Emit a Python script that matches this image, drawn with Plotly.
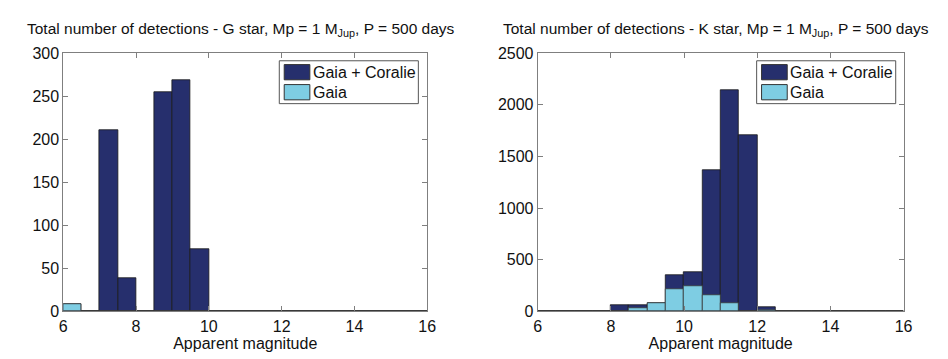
import plotly.graph_objects as go

bin_centers = [6.25, 6.75, 7.25, 7.75, 8.25, 8.75, 9.25, 9.75, 10.25, 10.75,
               11.25, 11.75, 12.25, 12.75, 13.25, 13.75, 14.25, 14.75, 15.25, 15.75]

g_gaia_coralie = [8, 0, 210, 38, 0, 255, 269, 72, 0, 0, 0, 0, 0, 0, 0, 0, 0, 0, 0, 0]
g_gaia = [8, 0, 0, 0, 0, 0, 0, 0, 0, 0, 0, 0, 0, 0, 0, 0, 0, 0, 0, 0]

k_gaia_coralie = [0, 0, 0, 6, 61, 60, 80, 353, 383, 1365, 2141, 1706, 37, 0, 0, 0, 0, 0, 0, 0]
k_gaia = [0, 0, 0, 0, 0, 28, 80, 212, 242, 156, 77, 6, 15, 0, 0, 0, 0, 0, 0, 0]

series_names = ["Gaia + Coralie", "Gaia"]
x_ticks = [6, 8, 10, 12, 14, 16]
g_yticks = [0, 50, 100, 150, 200, 250, 300]
k_yticks = [0, 500, 1000, 1500, 2000, 2500]

titles = ["Total number of detections - G star, Mp = 1 M<sub>Jup</sub>, P = 500 days",
          "Total number of detections - K star, Mp = 1 M<sub>Jup</sub>, P = 500 days"]

DARK = "#262f6d"
LIGHT = "#7ecde3"
EDGE = "#1a1a1a"
FONT = "Liberation Sans, Arial, sans-serif"
W, H = 948, 359

fig = go.Figure()
panels = [(g_gaia_coralie, g_gaia, "x", "y"),
          (k_gaia_coralie, k_gaia, "x2", "y2")]
for dark, light, xa, ya in panels:
    fig.add_trace(go.Bar(x=bin_centers, y=dark, width=0.5, name=series_names[0],
                         marker=dict(color=DARK, line=dict(color=EDGE, width=0.8)),
                         xaxis=xa, yaxis=ya, showlegend=False))
    fig.add_trace(go.Bar(x=bin_centers, y=light, width=0.5, name=series_names[1],
                         marker=dict(color=LIGHT, line=dict(color="#3a3a3a", width=0.8)),
                         xaxis=xa, yaxis=ya, showlegend=False))

ybot = 1 - 310 / H
ytop = 1 - 39 / H
xd1 = [52 / W, 421 / W]
xd2 = [533 / W, 904 / W]

axis_common = dict(showline=True, linecolor="#7f7f7f", linewidth=1, mirror="ticks",
                   ticks="inside", ticklen=5, tickcolor="#7f7f7f", showgrid=False,
                   zeroline=False, tickfont=dict(size=16, color="#111", family=FONT))

# legend boxes (drawn as paper-space shapes + text)
shapes = []
annotations = []
for left in (271, 755):
    shapes.append(dict(type="rect", xref="paper", yref="paper",
                       x0=left / W, x1=(left + 141) / W, y0=1 - 92 / H, y1=1 - 47 / H,
                       line=dict(color="#555", width=1), fillcolor="white", layer="above"))
    for i, (col, nm) in enumerate(zip([DARK, LIGHT], series_names)):
        top = 51 + i * 21
        shapes.append(dict(type="rect", xref="paper", yref="paper",
                           x0=(left + 5) / W, x1=(left + 31) / W,
                           y0=1 - (top + 16) / H, y1=1 - top / H,
                           line=dict(color="#333", width=1), fillcolor=col, layer="above"))
        annotations.append(dict(text=nm, x=(left + 32) / W, y=1 - (top + 8) / H,
                                xref="paper", yref="paper", showarrow=False,
                                xanchor="left", yanchor="middle",
                                font=dict(size=16, family=FONT, color="#111")))

annotations += [
    dict(text=titles[0], x=232 / W, y=1 - 14 / H, xref="paper", yref="paper",
         showarrow=False, font=dict(size=15.5, family=FONT, color="#111"),
         xanchor="center", yanchor="middle"),
    dict(text=titles[1], x=714 / W, y=1 - 14 / H, xref="paper", yref="paper",
         showarrow=False, font=dict(size=15.5, family=FONT, color="#111"),
         xanchor="center", yanchor="middle"),
]

fig.update_layout(
    width=W, height=H, barmode="overlay", bargap=0,
    paper_bgcolor="white", plot_bgcolor="white",
    margin=dict(l=0, r=0, t=0, b=0),
    font=dict(family=FONT, size=16, color="#111"),
    showlegend=False,
    xaxis=dict(domain=xd1, range=[6, 16], tickvals=x_ticks, anchor="y",
               title=dict(text="Apparent magnitude", standoff=0, font=dict(size=16)), **axis_common),
    yaxis=dict(domain=[ybot, ytop], range=[0, 300], tickvals=g_yticks, anchor="x", **axis_common),
    xaxis2=dict(domain=xd2, range=[6, 16], tickvals=x_ticks, anchor="y2",
                title=dict(text="Apparent magnitude", standoff=0, font=dict(size=16)), **axis_common),
    yaxis2=dict(domain=[ybot, ytop], range=[0, 2500], tickvals=k_yticks, anchor="x2", **axis_common),
    shapes=shapes,
    annotations=annotations,
)

fig.write_html("out.html")
